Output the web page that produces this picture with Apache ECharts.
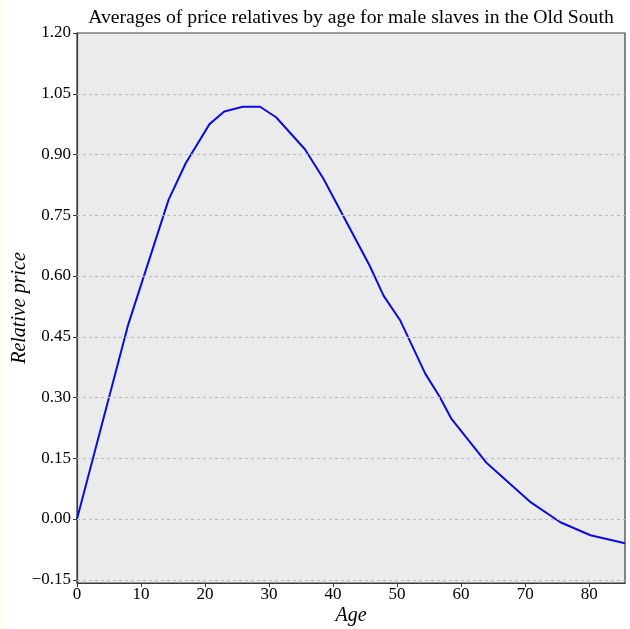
<!DOCTYPE html>
<html>
<head>
<meta charset="utf-8">
<title>Relative price by age</title>
<script src="https://cdn.jsdelivr.net/npm/echarts@6/dist/echarts.min.js"></script>
<style>
  html, body { margin: 0; padding: 0; background: #fffcf0; }
  #chart { width: 625px; height: 629px; margin-left: 5px; background: #ffffff; }
</style>
</head>
<body>
<div id="chart"></div>
<script>
// data
const ages = [0, 8, 14.3, 17, 20.7, 23, 25.9, 28.6, 31.1, 35.6, 38.5, 45.7, 47.9, 50.5, 54.4, 56.6, 58.5, 64, 70.9, 75.5, 80.2, 85.6]
const relPrice = [0, 0.48, 0.788, 0.879, 0.975, 1.006, 1.018, 1.018, 0.992, 0.913, 0.840, 0.626, 0.551, 0.490, 0.359, 0.303, 0.247, 0.138, 0.041, -0.008, -0.040, -0.060]
const yTicks = [-0.15, 0, 0.15, 0.30, 0.45, 0.60, 0.75, 0.90, 1.05, 1.20]
const xTicks = [0, 10, 20, 30, 40, 50, 60, 70, 80]

const serif = 'Liberation Serif'
const chart = echarts.init(document.getElementById('chart'))

// dashed grid lines at the y tick values (the top one is the frame)
const gridLines = yTicks.filter(v => v < 1.2).map(v => ({ yAxis: v }))

chart.setOption({
    animation: false,
    title: {
        text: 'Averages of price relatives by age for male slaves in the Old South',
        left: 341,
        top: 3,
        textAlign: 'center',
        textStyle: { fontFamily: serif, fontSize: 19.7, fontWeight: 'normal', color: '#000' }
    },
    grid: {
        left: 72,
        right: 5,
        top: 33,
        bottom: 46,
        outerBoundsMode: 'none',
        show: true,
        backgroundColor: '#ebebeb',
        borderColor: '#3a3a3a',
        borderWidth: 1.2
    },
    xAxis: {
        type: 'value',
        min: 0,
        max: 85.6,
        interval: 10,
        name: 'Age',
        nameLocation: 'middle',
        nameGap: 23,
        nameMoveOverlap: false,
        nameTextStyle: { fontFamily: serif, fontSize: 20, fontStyle: 'italic', color: '#000' },
        axisLine: { show: true, onZero: false, lineStyle: { color: '#3a3a3a', width: 1.2 } },
        axisTick: { show: true, length: 4, lineStyle: { color: '#3a3a3a' }, customValues: xTicks },
        axisLabel: { fontFamily: serif, fontSize: 17, color: '#000', margin: 3, customValues: xTicks },
        splitLine: { show: false }
    },
    yAxis: {
        type: 'value',
        min: -0.158,
        max: 1.2,
        name: 'Relative price',
        nameLocation: 'middle',
        nameGap: 47,
        nameMoveOverlap: false,
        nameTextStyle: { fontFamily: serif, fontSize: 20, fontStyle: 'italic', color: '#000' },
        axisLine: { show: true, onZero: false, lineStyle: { color: '#3a3a3a', width: 1.2 } },
        axisTick: { show: true, length: 4, lineStyle: { color: '#3a3a3a' }, customValues: yTicks },
        axisLabel: {
            fontFamily: serif, fontSize: 17, color: '#000', margin: 6,
            customValues: yTicks,
            formatter: v => (v < 0 ? '\u2212' + Math.abs(v).toFixed(2) : v.toFixed(2))
        },
        splitLine: { show: false }
    },
    series: [
        {
            type: 'line',
            data: ages.map((a, i) => [a, relPrice[i]]),
            showSymbol: false,
            lineStyle: { color: '#0c0cdc', width: 2 },
            markLine: {
                silent: true,
                symbol: 'none',
                label: { show: false },
                lineStyle: { color: '#bdbdbd', type: [3, 3], width: 1.2 },
                data: gridLines
            },
            z: 3
        }
    ]
})
</script>
</body>
</html>
